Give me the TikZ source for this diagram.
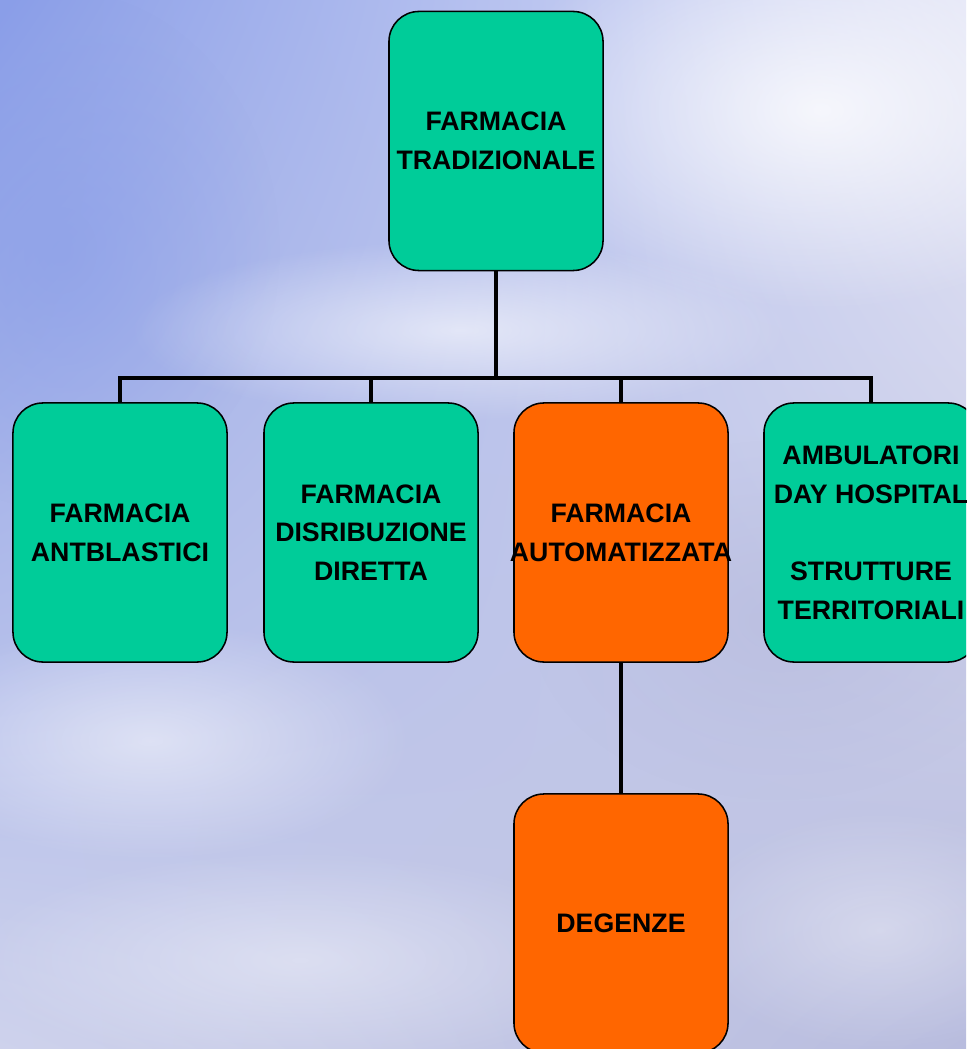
\documentclass[tikz,border=0pt]{standalone}
\usepackage{fontspec}
\setmainfont{Liberation Sans}
\usetikzlibrary{fadings,shadings}
\definecolor{farmgreen}{RGB}{0,204,153}
\definecolor{farmorange}{RGB}{255,102,0}
\definecolor{skytl}{RGB}{138,158,232}
\definecolor{skytr}{RGB}{226,228,246}
\definecolor{skybl}{RGB}{206,210,236}
\definecolor{skybr}{RGB}{184,188,222}
\tikzfading[name=softblob, inner color=transparent!0, outer color=transparent!100]
\tikzset{
  box/.style={draw, line width=1.1pt, rounded corners=0.75cm,
    minimum width=5.35cm, minimum height=6.475cm, inner xsep=-1cm,
    align=center, font=\fontsize{19}{27.5}\selectfont\bfseries},
  greenbox/.style={box, fill=farmgreen},
  orangebox/.style={box, fill=farmorange},
  conn/.style={line width=3.5pt},
  cloudblob/.style={white, path fading=softblob}
}
\begin{document}
\begin{tikzpicture}[x=0.025cm,y=-0.025cm]
  \useasboundingbox (0,0) rectangle (966,1049);
  \clip (0,0) rectangle (966,1049);
  % Sky
  \shade[upper left=skytl, upper right=skytr, lower left=skybl, lower right=skybr]
    (0,0) rectangle (966,1049);
  \fill[skytl, path fading=softblob, opacity=.6] (60,250) ellipse (220 and 260);
  \fill[cloudblob, opacity=.8] (820,110) ellipse (320 and 200);
  \fill[cloudblob, opacity=.6] (460,330) ellipse (330 and 90);
  \fill[cloudblob, opacity=.5] (150,740) ellipse (260 and 120);
  \fill[cloudblob, opacity=.4] (300,960) ellipse (330 and 110);
  \fill[cloudblob, opacity=.35] (880,930) ellipse (200 and 120);
  \fill[skybr, path fading=softblob, opacity=.7] (780,620) ellipse (250 and 180);
  % Boxes
  \node[greenbox] (trad) at (496,141) {FARMACIA\\TRADIZIONALE};
  \node[greenbox] (antb) at (120,532.5) {FARMACIA\\ANTBLASTICI};
  \node[greenbox] (disr) at (371,532.5) {FARMACIA\\DISRIBUZIONE\\DIRETTA};
  \node[orangebox] (auto) at (621,532.5) {FARMACIA\\AUTOMATIZZATA};
  \node[greenbox] (ambu) at (871,532.5) {AMBULATORI\\DAY HOSPITAL\\[27.5pt]STRUTTURE\\TERRITORIALI};
  \node[orangebox] (dege) at (621,923.5) {DEGENZE};
  % Connectors
  \coordinate (bus) at (496,378);
  \draw[conn] (trad.south) -- (bus);
  \foreach \n in {antb,disr,auto,ambu}
    \draw[conn] (bus) -| (\n.north);
  \draw[conn] (auto.south) -- (dege.north);
\end{tikzpicture}
\end{document}
